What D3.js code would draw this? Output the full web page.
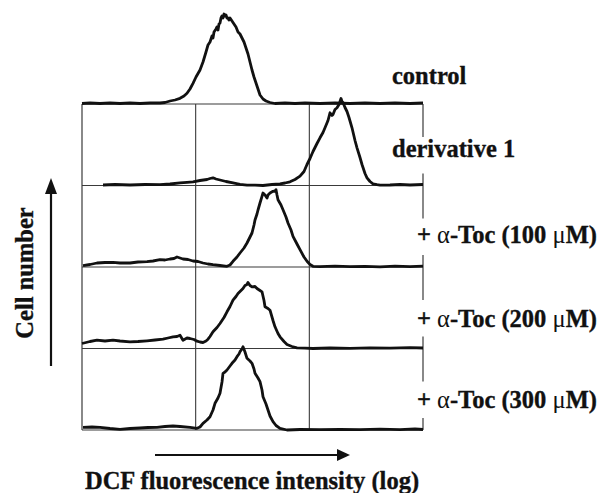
<!DOCTYPE html>
<html>
<head>
<meta charset="utf-8">
<script src="https://cdn.jsdelivr.net/npm/d3@7/dist/d3.min.js"></script>
<style>
  html, body { margin: 0; padding: 0; background: #fff; }
  svg { display: block; }
  text { font-family: "Liberation Serif", "Times New Roman", serif; fill: #111; }
</style>
</head>
<body>
<svg id="chart" width="605" height="493"></svg>
<script>
// ---- data: [channel (0-1023, log scale, 3 decades), cell count] ----
const seriesNames = ["control", "derivative 1", "toc100", "toc200", "toc300"];

const controlData = [[0,0.5],[24,1],[54,0.5],[84,1],[114,0.5],[144,1],[174,0.5],[204,1],[234,1],[249,1.5],[264,3],[279,4],[294,5.7],[306,8],[315,10.7],[324,15],[333,20.7],[342,27],[354,34],[363,42],[372,52],[378,59],[384,62],[390,68],[393,66],[396,72],[402,75],[405,77],[408,74],[411,80],[414,81],[417,86],[420,88],[423,86],[426,90],[429,88],[432,89],[435,86],[438,86],[441,84],[444,86],[450,83],[456,80],[462,77],[468,72],[474,70],[480,66],[486,62],[492,56],[498,50],[504,42],[510,34],[516,27],[522,21],[528,15],[534,9],[543,5],[552,3],[564,1.5],[579,0.5],[609,1],[639,0.5],[669,1],[714,0.5],[759,1],[804,0.5],[849,1],[894,0.5],[939,1],[984,0.5],[1023,1]];

const derivativeData = [[63,0.5],[99,1],[144,0.5],[189,1],[234,0.8],[264,1.5],[294,2.7],[315,3.2],[333,3.7],[354,5],[375,6],[384,7],[393,7.7],[402,6.5],[414,5.5],[432,4],[453,2.7],[474,1.2],[495,0.3],[519,0.3],[543,0],[570,1],[594,1.7],[609,2.5],[624,3.7],[639,6],[654,9.3],[666,14],[675,21],[684,27],[693,34],[705,42],[714,47.7],[723,53],[729,57.7],[738,65],[744,72.7],[750,70],[753,71],[759,76],[765,77.7],[771,81],[774,84],[777,87],[780,84],[783,83],[789,78],[795,74],[801,68],[810,57.7],[819,45],[825,37.7],[834,28],[840,21],[849,12],[855,7.7],[864,4],[873,1.7],[885,0.8],[894,0.3],[924,0.5],[954,1],[984,0.5],[1023,1]];

const toc100Data = [[3,1.3],[24,2.5],[45,4],[69,4.5],[93,4.7],[114,4],[144,4],[168,5],[195,5.3],[213,6],[234,7.3],[249,7],[264,8],[276,8.5],[285,10],[294,9],[303,8],[318,7.5],[333,6],[348,5.5],[363,4],[378,3],[393,2.3],[414,1.5],[435,0.7],[444,2],[453,5.7],[465,10],[474,14],[486,19],[495,24],[504,30],[510,34],[516,42],[519,47],[525,53],[528,57],[534,64],[540,70.7],[543,74],[549,72],[555,69],[558,72],[564,74],[573,75.7],[579,76],[582,77.3],[585,72],[588,67.3],[597,62],[603,57.3],[612,50],[618,44],[627,37],[633,30.7],[645,23],[654,17.3],[666,10],[675,5.7],[684,2.5],[693,0.7],[714,0.3],[759,0.8],[804,0.3],[849,0.7],[894,0.2],[939,0.8],[984,0.3],[1023,0.8]];

const toc200Data = [[0,5],[24,7],[45,8.3],[69,7.5],[93,8.3],[114,7.5],[144,6.7],[168,7],[195,7.7],[219,8.5],[243,9.3],[258,10.5],[273,11.7],[285,12],[294,13.3],[303,8.3],[315,10.5],[324,10],[336,9],[345,7.3],[354,6.5],[363,6],[372,7.5],[378,9.3],[384,12],[393,16.7],[405,21],[414,25],[426,31],[435,36.7],[444,42],[453,48.3],[462,52],[468,55],[477,58],[483,60],[489,63],[495,64],[498,66],[504,63],[510,61.7],[519,62],[525,60],[534,58],[540,56.7],[546,48],[549,41.7],[558,40],[564,38.3],[573,28],[579,21.7],[588,15],[594,11.7],[606,7],[615,4],[630,2],[645,0.7],[669,0.3],[693,0],[744,0.5],[804,0.2],[864,0.7],[924,0.3],[984,0.8],[1023,0.5]];

const toc300Data = [[3,2.7],[30,3],[54,2.7],[84,1.5],[114,0.7],[144,1.5],[174,2],[198,2.5],[225,2.7],[249,3.5],[273,4],[294,3.5],[324,2.7],[345,1.7],[354,3],[363,6.7],[375,10],[384,13.3],[393,20],[399,26.7],[408,32],[414,36.7],[420,48],[423,56.7],[429,58],[435,60],[444,64],[450,66.7],[459,70],[465,73.3],[471,76],[474,78.3],[480,81],[483,83.3],[489,78],[495,71.7],[504,69],[510,66.7],[516,61],[519,56.7],[528,52],[534,48.3],[540,40],[543,33.3],[552,26],[558,20],[564,14],[573,8.3],[582,4.5],[594,1.7],[615,0],[654,0.5],[714,0.3],[774,0.7],[834,0.3],[894,0.8],[954,0.3],[999,1],[1023,0.5]];

const allSeries = [controlData, derivativeData, toc100Data, toc200Data, toc300Data];
const decadeTicks = [341, 682];   // grid lines at decade boundaries

(function draw() {
  const svg = d3.select("#chart");
  const boxL = 82, boxR = 423, boxT = 104, boxB = 430;

  const x = d3.scaleLinear().domain([0, 1023]).range([boxL, boxR]);
  const rowY = d3.scalePoint().domain(seriesNames).range([boxT, boxB]);
  const h = d3.scaleLinear().domain([0, 100]).range([0, 100]);

  const gridColor = "#3a3a3a";

  svg.append("g").selectAll("line").data(seriesNames).join("line")
    .attr("x1", boxL).attr("x2", boxR)
    .attr("y1", d => rowY(d)).attr("y2", d => rowY(d))
    .attr("stroke", gridColor).attr("stroke-width", 1.2);

  svg.append("line").attr("x1", boxL).attr("x2", boxL).attr("y1", boxT).attr("y2", boxB)
    .attr("stroke", gridColor).attr("stroke-width", 1.2);

  svg.append("g").selectAll("line").data(decadeTicks).join("line")
    .attr("x1", d => x(d)).attr("x2", d => x(d))
    .attr("y1", boxT).attr("y2", boxB)
    .attr("stroke", gridColor).attr("stroke-width", 1.1);

  svg.append("g").selectAll("line").data(seriesNames).join("line")
    .attr("x1", boxR).attr("x2", boxR)
    .attr("y1", d => Math.max(boxT, rowY(d) - 12))
    .attr("y2", d => Math.min(boxB, rowY(d) + 33))
    .attr("stroke", gridColor).attr("stroke-width", 1.2);

  const line = d3.line().x(d => x(d[0]));
  svg.append("g").selectAll("path").data(allSeries).join("path")
    .attr("d", (d, i) => {
      const base = rowY(seriesNames[i]);
      return line.y(p => base - h(p[1]))(d);
    })
    .attr("fill", "none").attr("stroke", "#111")
    .attr("stroke-width", 2.8).attr("stroke-linejoin", "round");

  const fs = 24.5;
  const bold = sel => sel.attr("font-size", fs).attr("font-weight", "bold")
    .attr("stroke", "#111").attr("stroke-width", 0.35);
  bold(svg.append("text").attr("x", 392).attr("y", 84)).text("control");
  bold(svg.append("text").attr("x", 392).attr("y", 157)).text("derivative 1");
  const tocLabels = [["100", 243], ["200", 327], ["300", 408]];
  tocLabels.forEach(([c, yy]) => {
    const t = bold(svg.append("text").attr("x", 417).attr("y", yy));
    t.append("tspan").text("+ ");
    t.append("tspan").attr("font-weight", "normal").attr("stroke-width", 0).text("α");
    t.append("tspan").text("-Toc (" + c + " ");
    t.append("tspan").attr("font-weight", "normal").attr("stroke-width", 0).text("μ");
    t.append("tspan").text("M)");
  });

  svg.append("line").attr("x1", 51).attr("x2", 51).attr("y1", 366).attr("y2", 190)
    .attr("stroke", "#111").attr("stroke-width", 2.2);
  svg.append("path").attr("d", "M51,178 L45,194 L57,194 Z").attr("fill", "#111");
  bold(svg.append("text").attr("transform", "translate(33,273) rotate(-90)")
    .attr("text-anchor", "middle")).text("Cell number");

  svg.append("line").attr("x1", 155).attr("x2", 340).attr("y1", 455).attr("y2", 455)
    .attr("stroke", "#111").attr("stroke-width", 2.2);
  svg.append("path").attr("d", "M350,455 L337,449 L337,461 Z").attr("fill", "#111");
  bold(svg.append("text").attr("x", 252).attr("y", 489).attr("text-anchor", "middle"))
    .text("DCF fluorescence intensity (log)");
})();
</script>
</body>
</html>
